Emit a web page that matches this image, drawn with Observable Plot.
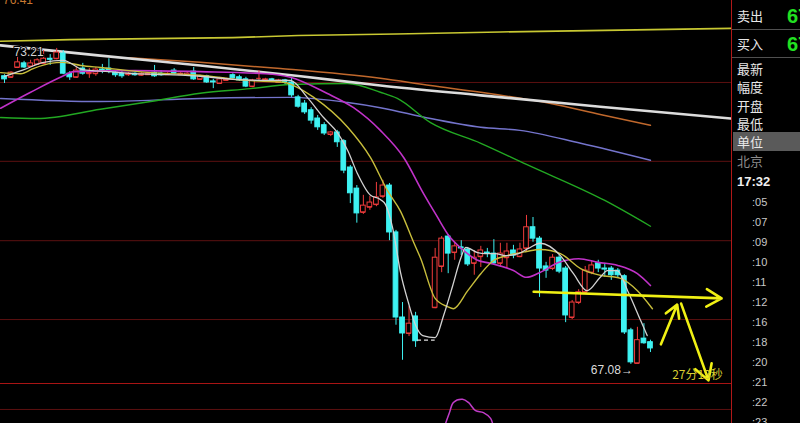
<!DOCTYPE html>
<html><head><meta charset="utf-8">
<script src="https://cdn.jsdelivr.net/npm/d3@7"></script>
<script src="https://cdn.jsdelivr.net/npm/@observablehq/plot@0.6"></script>
<style>
html,body{margin:0;padding:0;background:#000;width:800px;height:423px;overflow:hidden;font-family:"Noto Sans CJK SC","Liberation Sans",sans-serif;}
#main{position:absolute;left:0;top:0;width:731px;height:384px;}
#sub{position:absolute;left:0;top:383px;width:731px;height:40px;border-top:1px solid #a81414;}
#panel{position:absolute;left:731px;top:0;width:68px;height:423px;border-left:1px solid #b01818;overflow:hidden;}
.sep{position:absolute;left:0;width:68px;height:1px;background:#505050;}
.hl{position:absolute;left:1px;width:67px;background:#5a5a5a;}
.lab{position:absolute;left:5px;font-size:13px;line-height:16px;color:#e8e8e8;white-space:nowrap;}
.big{position:absolute;left:55px;font-size:20px;line-height:22px;font-weight:bold;color:#22e022;font-family:"Liberation Sans",sans-serif;white-space:nowrap;}
.tm{position:absolute;left:20px;font-size:11px;line-height:14px;color:#c8c8c8;font-family:"Liberation Sans",sans-serif;}
#tl{position:absolute;left:3px;top:-7px;font-size:12px;line-height:14px;color:#c87830;font-family:"Liberation Sans",sans-serif;}
</style></head>
<body>
<div id="main"></div>
<div id="sub"></div>
<div id="tl">76.41</div>
<div id="panel"></div>
<script>
// ---- candle data (index 0..99; 64,65 empty) ----
const open = [
72.67,72.65,72.84,72.92,72.86,72.90,72.92,73.01,73.01,73.11,
72.72,72.65,72.82,72.72,72.72,72.80,72.82,72.74,72.72,72.70,
72.72,72.69,72.70,72.74,72.72,72.70,72.78,72.70,72.69,72.76,
72.61,72.67,72.57,72.53,72.59,72.69,72.65,72.61,72.47,72.63,
72.59,72.61,72.55,72.59,72.55,72.26,72.14,72.01,71.85,71.72,
71.54,71.58,71.41,70.90,70.49,70.03,70.13,70.18,70.34,70.55,
69.64,67.99,67.68,68.01,null,null,68.18,68.98,69.56,69.25,
69.35,69.31,69.04,69.17,69.25,69.23,69.04,69.15,69.29,69.17,
69.33,69.74,69.52,68.98,68.94,69.15,68.94,67.99,68.28,68.48,
68.86,69.04,68.94,68.94,68.90,68.79,67.74,67.10,67.58,67.51];
const high = [
72.70,72.76,73.07,72.96,72.98,73.01,73.17,73.09,73.21,73.17,
72.76,72.84,72.92,72.82,72.84,72.90,73.01,72.78,72.76,72.74,
72.74,72.74,72.74,72.88,72.78,72.74,72.82,72.74,72.76,72.84,
72.69,72.69,72.61,72.65,72.63,72.72,72.69,72.65,72.61,72.78,
72.63,72.63,72.61,72.61,72.63,72.30,72.20,72.06,71.91,71.77,
71.60,71.62,71.44,70.94,70.55,70.36,70.34,70.61,70.65,70.59,
69.68,68.28,68.20,68.09,null,null,69.33,69.56,69.60,69.45,
69.48,69.35,69.29,69.37,69.33,69.50,69.43,69.43,69.39,69.43,
69.97,69.93,69.56,69.06,69.21,69.19,68.98,68.32,68.53,68.98,
69.08,69.10,69.04,68.98,68.94,68.82,67.78,67.80,67.87,67.55];
const low = [
72.53,72.63,72.82,72.82,72.84,72.88,72.90,72.88,72.99,72.70,
72.59,72.63,72.69,72.63,72.67,72.72,72.72,72.65,72.63,72.67,
72.67,72.67,72.69,72.65,72.67,72.69,72.70,72.69,72.67,72.59,
72.59,72.53,72.43,72.51,72.57,72.61,72.57,72.45,72.45,72.59,
72.55,72.55,72.53,72.51,72.26,72.05,71.93,71.74,71.62,71.52,
71.50,71.29,70.78,70.20,69.82,69.99,70.07,70.14,70.30,69.48,
67.84,67.16,67.62,67.41,null,null,68.16,68.86,68.84,69.10,
69.19,68.98,68.81,68.96,69.15,69.02,68.96,68.94,69.13,69.15,
69.25,69.45,68.38,68.75,68.90,68.84,67.89,67.95,68.24,68.44,
68.82,68.86,68.77,68.71,68.75,67.66,67.08,67.10,67.47,67.31];
const close = [
72.61,72.74,72.94,72.84,72.92,72.98,73.01,72.99,73.13,72.72,
72.65,72.78,72.72,72.74,72.80,72.79,72.76,72.69,72.67,72.72,
72.69,72.72,72.72,72.67,72.69,72.72,72.72,72.72,72.72,72.61,
72.67,72.55,72.55,72.61,72.61,72.63,72.59,72.47,72.59,72.63,
72.61,72.57,72.59,72.55,72.30,72.08,71.97,71.81,71.68,71.56,
71.58,71.39,70.84,70.40,70.01,70.16,70.22,70.32,70.55,69.64,
67.99,67.68,67.87,67.53,null,null,69.15,69.52,69.23,69.37,
69.33,69.02,69.15,69.29,69.23,69.04,69.23,69.27,69.19,69.31,
69.74,69.52,68.94,68.90,69.15,68.88,68.03,68.28,68.48,68.90,
69.00,68.94,68.92,68.81,68.81,67.70,67.12,67.55,67.49,67.39];

// ---- moving averages (bar index -> price) ----
const ma5Idx = [0,3,6,9,12,16,20,25,30,35,40,43.8,46.4,48.9,51,52.6,54.1,56.1,57.6,58.4,59.5,60.7,61.9,63,64.1,66,67.3,68.7,69.9,70.7,72.5,73.7,75.2,76.8,78.8,80.3,82.1,85.2,87.2,89.3,91.3,92.4,93.9,95.5,97.5,98.5];
const ma5 = [72.67,72.80,72.94,72.98,72.80,72.76,72.72,72.70,72.67,72.61,72.59,72.59,72.26,71.87,71.58,71.23,70.78,70.36,70.28,70.18,69.72,68.86,68.28,67.84,67.64,67.60,68.03,68.61,69.13,69.35,69.25,69.23,69.23,69.19,69.23,69.33,69.43,69.19,68.84,68.51,68.77,68.90,68.90,68.51,67.93,67.64];
const ma10Idx = [-0.6,2.5,4.4,7,8.9,11.7,14.7,22.4,30,37,43,44.3,47.4,52.6,56.1,58.7,60.7,62.7,63.8,66,67.9,68.8,71,73,75,77,80,82.1,85.2,88.3,91.3,94.4,97,99.3];
const ma10 = [72.74,72.72,72.82,72.92,72.94,72.88,72.84,72.74,72.69,72.59,72.55,72.49,72.26,71.68,71.09,70.45,70.05,69.45,69.13,68.36,68.20,68.16,68.51,68.84,69.10,69.19,69.27,69.31,69.23,68.94,68.81,68.75,68.51,68.16];
const ma20Idx = [-0.6,4,8.9,10.6,20,30,40,43.8,49.4,53.5,57.6,61.2,64.2,66.2,68.2,70,72.5,74.5,78,80,82,85,88,91,94,97,99];
const ma20 = [72.05,72.36,72.67,72.76,72.78,72.76,72.72,72.65,72.34,72.06,71.62,71.09,70.40,69.97,69.56,69.33,69.10,69.04,68.90,68.77,68.86,69.06,69.13,69.06,69.00,68.84,68.61];
const ma60Idx = [-0.6,5,14.7,22.4,30,37.7,43.8,52.6,57.6,60.2,65.3,73,80,92,99];
const ma60 = [71.87,71.85,72.03,72.18,72.34,72.43,72.51,72.53,72.36,72.24,71.77,71.37,70.96,70.26,69.76];
const maLavIdx = [-0.6,14.7,30,43.8,52.6,57.6,65.3,73,79,88.3,99];
const maLav = [72.24,72.18,72.24,72.26,72.16,72.06,71.85,71.68,71.62,71.37,71.04];
const maOrIdx = [19,30,42.3,57.6,65.3,73,83.7,91.3,99];
const maOr = [73.03,72.94,72.82,72.63,72.49,72.36,72.14,71.93,71.72];
const maWhIdx = [-0.6,14.7,30,45.4,57.6,73,91.3,111.3];
const maWh = [73.27,73.07,72.88,72.67,72.49,72.30,72.08,71.85];
const maTopIdx = [-0.6,10,35,45,60,76,92,111.3];
const maTop = [73.35,73.38,73.42,73.46,73.49,73.53,73.56,73.60];

const gridLevels = [72.55,71.02,69.48,67.95];
const lowMark = [{x1:63.3, x2:66, y:67.55}];

// hand-drawn annotations (bar index, price)
const arrows = [
  {x1:81.1, y1:68.49, x2:109.9, y2:68.36},
  {x1:100.6, y1:67.47, x2:103.1, y2:68.24},
  {x1:103.7, y1:68.26, x2:107.9, y2:66.77}];
const timeNote = [{x:106.2, y:66.865, t:"27分13秒"}];

// lower indicator panel
const subIdx = [67.6,68.2,68.8,70.2,71.1,72.2,73.4,74.5,74.8];
const subVal = [0,28,54,62,54,33,28,13,0];
const subGrid = [36];

// right panel
const panelLabels = ["卖出","买入","最新","幅度","开盘","最低","单位","北京"];
const panelY = [16,44,69,87,106,124,142,161];
const quoteBig = ["67.39","67.38"];
const clock = "17:32";
const timeTicks = [":05",":07",":09",":10",":11",":12",":16",":18",":20",":21",":22",":23"];

// ---- build ----
const rows = open.map((o,i)=> o==null ? null : {i, o, h:high[i], l:low[i], c:close[i]}).filter(d=>d);
const UP = "#f03c3c", DN = "#3ef2f2";
const isUp = d => d.c >= d.o;
const col = d => isUp(d) ? UP : DN;
const pts = (idx, v) => idx.map((x,k)=>({x, y:v[k]}));
const hiRow = rows.reduce((a,b)=> b.h > a.h ? b : a);
const loRow = rows.reduce((a,b)=> b.l < a.l ? b : a);
const xdom = [-0.613, 111.42];
const W = 0.36;

const main = Plot.plot({
  width:731, height:384, margin:0,
  x:{domain:xdom, axis:null},
  y:{domain:[66.69,74.14], axis:null},
  style:{background:"#000", overflow:"hidden", fontFamily:"Liberation Sans, Arial, sans-serif"},
  marks:[
    Plot.ruleY(gridLevels, {stroke:"#5c1010", strokeWidth:1}),
    Plot.line(pts(maTopIdx, maTop), {x:"x", y:"y", stroke:"#c8c832", strokeWidth:1.6}),
    Plot.line(pts(maLavIdx, maLav), {x:"x", y:"y", stroke:"#7474cc", strokeWidth:1.4, curve:"monotone-x"}),
    Plot.line(pts(ma60Idx, ma60), {x:"x", y:"y", stroke:"#22a822", strokeWidth:1.4, curve:"monotone-x"}),
    Plot.line(pts(maOrIdx, maOr), {x:"x", y:"y", stroke:"#c0682c", strokeWidth:1.5, curve:"monotone-x"}),
    Plot.line(pts(maWhIdx, maWh), {x:"x", y:"y", stroke:"#dcdcdc", strokeWidth:2.6, curve:"monotone-x"}),
    Plot.ruleX(rows, {x:"i", y1:"l", y2:"h", stroke:col, strokeWidth:1}),
    Plot.rect(rows, {x1:d=>d.i-W, x2:d=>d.i+W, y1:"o", y2:"c", fill:d=>isUp(d)?"#000":DN, stroke:col, strokeWidth:1}),
    Plot.ruleY(rows, {x1:d=>d.i-W, x2:d=>d.i+W, y:"o", stroke:col, strokeWidth:1}),
    Plot.line(pts(ma20Idx, ma20), {x:"x", y:"y", stroke:"#c032c8", strokeWidth:1.6, curve:"monotone-x"}),
    Plot.line(pts(ma10Idx, ma10), {x:"x", y:"y", stroke:"#c8be3c", strokeWidth:1.4, curve:"monotone-x"}),
    Plot.line(pts(ma5Idx, ma5), {x:"x", y:"y", stroke:"#d2d2d2", strokeWidth:1.3, curve:"monotone-x"}),
    Plot.ruleY(lowMark, {x1:"x1", x2:"x2", y:"y", stroke:"#e0e0e0", strokeWidth:1.3, strokeDasharray:"4,3"}),
    Plot.arrow(arrows, {x1:"x1", y1:"y1", x2:"x2", y2:"y2", stroke:"#f0f014", strokeWidth:2.6, headLength:10}),
    Plot.text([hiRow], {x:"i", y:"h", text:d=>d.h.toFixed(2), dx:-13, dy:4, textAnchor:"end", fill:"#d4d4d4", fontSize:12, stroke:"#000", strokeWidth:2, paintOrder:"stroke"}),
    Plot.text([loRow], {x:"i", y:"l", text:d=>d.l.toFixed(2)+"→", dx:2, dy:6, textAnchor:"end", fill:"#dcdcdc", fontSize:12}),
    Plot.text(timeNote, {x:"x", y:"y", text:"t", fill:"#d8cc30", fontSize:12, fontFamily:"Noto Sans CJK SC"})
  ]
});
document.getElementById("main").appendChild(main);

const sub = Plot.plot({
  width:731, height:39, margin:0,
  x:{domain:xdom, axis:null},
  y:{domain:[0,100], axis:null},
  style:{background:"#000", overflow:"hidden"},
  marks:[
    Plot.ruleY(subGrid, {stroke:"#5c1010"}),
    Plot.line(pts(subIdx, subVal), {x:"x", y:"y", stroke:"#c03cc8", strokeWidth:1.5, curve:"catmull-rom"})
  ]
});
document.getElementById("sub").appendChild(sub);

// right panel
const panel = document.getElementById("panel");
let html = '<div class="sep" style="top:29px"></div><div class="sep" style="top:57px"></div>';
html += '<div class="hl" style="top:132px;height:19px"></div>';
panelLabels.forEach((t,k)=>{
  const c = t==="北京" ? "#8c8c8c" : "#e8e8e8";
  html += `<span class="lab" style="top:${panelY[k]-8}px;color:${c}">${t}</span>`;
});
quoteBig.forEach((t,k)=>{ html += `<span class="big" style="top:${panelY[k]-11}px">${t}</span>`; });
html += `<span class="lab" style="top:174px;font-weight:bold;font-family:'Liberation Sans',sans-serif;color:#f0f0f0">${clock}</span>`;
timeTicks.forEach((t,k)=>{ html += `<span class="tm" style="top:${195+k*20}px">${t}</span>`; });
panel.innerHTML = html;
</script>
</body></html>
